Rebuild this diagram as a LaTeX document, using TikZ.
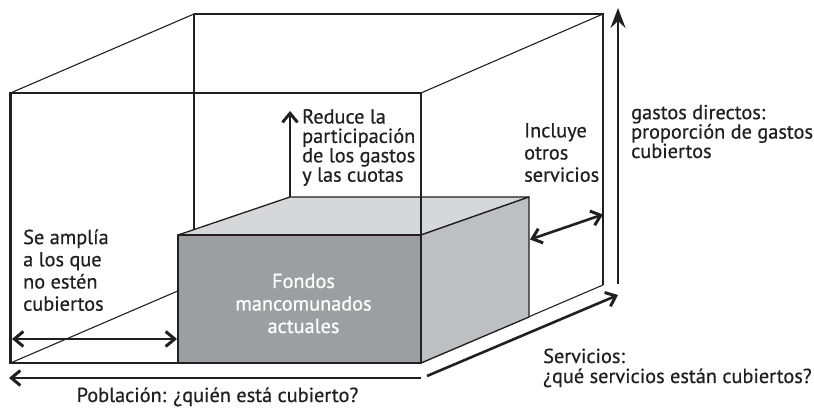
\documentclass[tikz,border=0pt]{standalone}
\usepackage{fontspec}
\setmainfont{PT Sans}[FakeBold=0.6]
\usetikzlibrary{arrows.meta}
\definecolor{ink}{HTML}{231F20}
\definecolor{boxfront}{HTML}{9D9EA2}
\definecolor{boxright}{HTML}{BEBFC3}
\definecolor{boxtop}{HTML}{D6D7D9}
\tikzset{
  thinedge/.style={draw=ink, line width=1.1pt},
  thickedge/.style={draw=ink, line width=2.4pt, line join=miter},
  boxedge/.style={draw=ink, line width=1.3pt, line join=round},
  tipA/.tip={Straight Barb[length=9pt,width=15pt,line width=3pt]},
  arr/.style={draw=ink, line width=2.6pt, -tipA},
  darr/.style={draw=ink, line width=2.6pt, tipA-tipA},
  bigarr/.style={draw=ink, line width=2.8pt, -{Stealth[length=20pt,width=15pt,inset=7pt]}},
  txt/.style={font=\fontsize{20.3}{22.2}\selectfont, text=ink, align=left, inner sep=0pt, anchor=base west},
  txttight/.style={txt, font=\fontsize{20.3}{19.4}\selectfont},
}
\begin{document}
\begin{tikzpicture}[x=1pt,y=-1pt]
\useasboundingbox (0,0) rectangle (814,411);
% outer cube corners
\coordinate (FTL) at (10.5,93);
\coordinate (FTR) at (421,93);
\coordinate (FBL) at (10.5,363);
\coordinate (FBR) at (421,363);
\coordinate (BTL) at (194,14);
\coordinate (BTR) at (603,14);
\coordinate (BBL) at (194,284);
\coordinate (BBR) at (603,285);
% fund box corners
\coordinate (A) at (178,235);
\coordinate (B) at (421,235);
\coordinate (C) at (421,363);
\coordinate (D) at (178,363);
\coordinate (E) at (290,197);
\coordinate (G) at (529,197);
\coordinate (H) at (529,317);
% back (thin) edges
\draw[thinedge] (BTL) -- (BTR) -- (BBR);
\draw[thinedge] (BTL) -- (BBL);
\draw[thinedge] (FTL) -- (BTL);
\draw[thinedge] (FTR) -- (BTR);
\draw[thinedge] (FBL) -- (BBL);
\draw[thinedge] (FBR) -- (BBR);
% fund box
\filldraw[fill=boxtop, boxedge] (A) -- (E) -- (G) -- (B) -- cycle;
\filldraw[fill=boxright, boxedge] (B) -- (G) -- (H) -- (C) -- cycle;
\filldraw[fill=boxfront, boxedge] (A) -- (B) -- (C) -- (D) -- cycle;
% front face (thick)
\draw[thickedge] (FTR) -- (B);
\draw[thickedge] (FBR) -- (FBL) -- (FTL) -- (FTR);
% arrows
\coordinate (redtop) at (290,111);
\draw[arr] (E) -- (redtop);
\coordinate (incA) at (530,239.5);
\coordinate (incB) at (603,214.5);
\draw[darr] (incA) -- (incB);
\coordinate (gasA) at (618,284);
\coordinate (gasB) at (618,8);
\draw[bigarr] (gasA) -- (gasB);
\coordinate (ampA) at (12,339);
\coordinate (ampB) at (177,339);
\draw[darr] (ampA) -- (ampB);
\coordinate (pobA) at (421,378);
\coordinate (pobB) at (9,378);
\draw[arr] (pobA) -- (pobB);
\coordinate (serA) at (427,376);
\coordinate (serB) at (618,295);
\draw[arr] (serA) -- (serB);
% texts (base anchor = baseline of last line)
\node[txttight] (reduce) at (302,181.7) {Reduce la\\participación\\de los gastos\\y las cuotas};
\node[txt] (incluye) at (524,181.7) {Incluye\\otros\\servicios};
\node[txttight] (gastos) at (631,158) {gastos directos:\\proporción de gastos\\cubiertos};
\node[txt] (amplia) at (23,310.7) {Se amplía\\a los que\\no estén\\cubiertos};
\node[txt, align=center, anchor=base, text=white, font=\fontsize{20.3}{22.5}\selectfont] (fondos) at (303.5,333) {Fondos\\mancomunados\\actuales};
\node[txt, anchor=base] (poblacion) at (217.5,402) {Población: ¿quién está cubierto?};
\node[txt, font=\fontsize{20.3}{20}\selectfont] (servicios) at (543,383) {Servicios:\\¿qué servicios están cubiertos?};
\end{tikzpicture}
\end{document}
